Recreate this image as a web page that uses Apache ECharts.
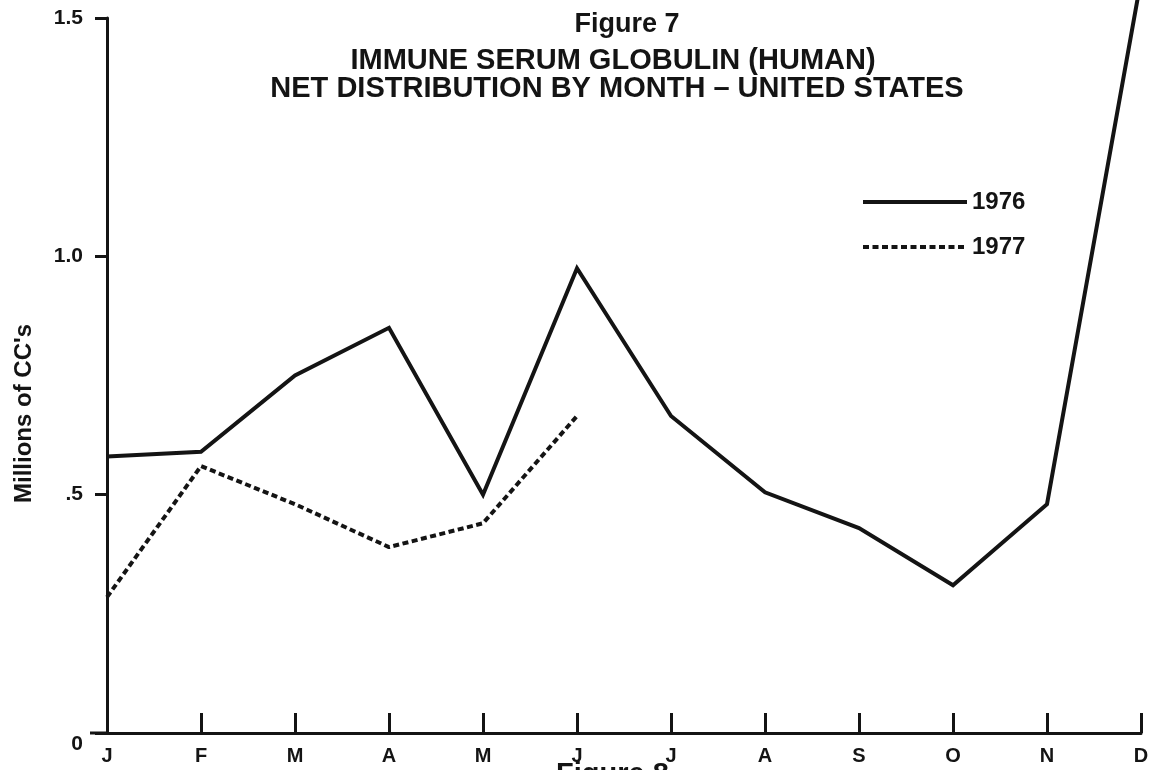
<!DOCTYPE html>
<html>
<head>
<meta charset="utf-8">
<script src="https://cdn.jsdelivr.net/npm/echarts@6/dist/echarts.min.js"></script>
<style>
  html, body { margin: 0; padding: 0; background: #fff; }
  #chart { width: 1163px; height: 770px; }
</style>
</head>
<body>
<div id="chart"></div>
<script>
// months on the x axis
const months = ['J', 'F', 'M', 'A', 'M', 'J', 'J', 'A', 'S', 'O', 'N', 'D']
// millions of cc's
const values1976 = [0.58, 0.59, 0.75, 0.85, 0.50, 0.975, 0.665, 0.505, 0.43, 0.31, 0.48, 1.58]
const values1977 = [0.285, 0.56, 0.48, 0.39, 0.44, 0.665]
const yTickLabels = { 0: '{zero|0}', 0.5: '.5', 1: '1.0', 1.5: '1.5' }

const ink = '#141414'
const font = '"Liberation Sans", Arial, sans-serif'

const chart = echarts.init(document.getElementById('chart'))

chart.setOption({
  backgroundColor: '#fff',
  animation: false,
  grid: { left: 107, right: 22, top: 18, bottom: 37, outerBoundsMode: 'none' },
  title: [
    {
      text: 'Figure 7',
      left: 622, top: 6, textAlign: 'center',
      textStyle: { fontFamily: font, fontSize: 27, fontWeight: 'bold', color: ink }
    },
    {
      text: 'IMMUNE SERUM GLOBULIN (HUMAN)',
      left: 608, top: 41, textAlign: 'center',
      textStyle: { fontFamily: font, fontSize: 29, fontWeight: 'bold', color: ink }
    },
    {
      text: 'NET DISTRIBUTION BY MONTH \u2013 UNITED STATES',
      left: 612, top: 69, textAlign: 'center',
      textStyle: { fontFamily: font, fontSize: 29, fontWeight: 'bold', color: ink }
    }
  ],
  legend: {
    left: 856, top: 185,
    orient: 'vertical',
    itemWidth: 104, itemHeight: 14, itemGap: 21,
    itemStyle: { color: 'transparent', borderWidth: 0 },
    lineStyle: { width: 4 },
    textStyle: { fontFamily: font, fontSize: 24, fontWeight: 'bold', color: ink },
    data: ['1976', '1977']
  },
  xAxis: {
    type: 'category',
    data: months,
    boundaryGap: false,
    axisLine: { lineStyle: { color: ink, width: 3 } },
    axisTick: { inside: true, length: 20, lineStyle: { color: ink, width: 3 } },
    axisLabel: { color: ink, fontFamily: font, fontSize: 20, fontWeight: 'bold', margin: 13 },
    splitLine: { show: false }
  },
  yAxis: {
    type: 'value',
    min: 0, max: 1.5, interval: 0.5,
    name: "Millions of CC's",
    nameLocation: 'middle',
    nameGap: 71,
    nameRotate: 90,
    nameTextStyle: { fontFamily: font, fontSize: 24, fontWeight: 'bold', color: ink, padding: [0, 0, 0, -76] },
    axisLine: { show: true, lineStyle: { color: ink, width: 3 } },
    axisTick: { show: true, length: 12, lineStyle: { color: ink, width: 3 } },
    axisLabel: {
      color: ink, fontFamily: font, fontSize: 21, fontWeight: 'bold', margin: 24,
      formatter: v => yTickLabels[v] ?? '',
      rich: { zero: { fontFamily: font, fontSize: 21, fontWeight: 'bold', color: ink, padding: [22, 0, 0, 0] } }
    },
    splitLine: { show: false }
  },
  graphic: [
    {
      type: 'line',
      shape: { x1: 90, y1: 733, x2: 108, y2: 733 },
      style: { stroke: ink, lineWidth: 3 }
    },
    {
      type: 'text',
      left: 556, top: 760,
      style: { text: 'Figure 8', font: 'bold 29px ' + font, fill: ink }
    }
  ],
  series: [
    {
      name: '1976',
      type: 'line',
      data: values1976,
      clip: false,
      symbol: 'none',
      color: ink,
      lineStyle: { color: ink, width: 4, join: 'miter' }
    },
    {
      name: '1977',
      type: 'line',
      data: values1977,
      symbol: 'none',
      color: ink,
      lineStyle: { color: ink, width: 4, type: [6, 3.5] }
    }
  ]
})
</script>
</body>
</html>
